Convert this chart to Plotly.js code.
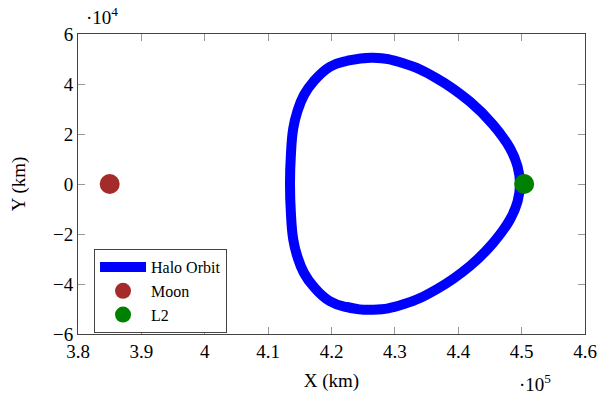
<!DOCTYPE html>
<html>
<head>
<meta charset="utf-8">
<script src="https://cdn.plot.ly/plotly-3.0.1.min.js"></script>
<style>html,body{margin:0;padding:0;background:#fff;}#chart{width:599px;height:395px;}</style>
</head>
<body>
<div id="chart"></div>
<script>
// Halo orbit (km), starting at L2 and going round counter-clockwise
const orbitX = [449740, 449360, 448170, 445530, 441850, 436600, 431330, 426600, 422400, 419760, 417130, 415660, 414600, 413970, 413600, 413450,
                413600, 413970, 414600, 415660, 417130, 419760, 422400, 426600, 431330, 436600, 441850, 445530, 448170, 449360, 449740];
const orbitY = [0, 7000, 14280, 23600, 32920, 42280, 48280, 50520, 49200, 46920, 40920, 35600, 28920, 22280, 12000, 0,
                -12000, -22280, -28920, -35600, -40920, -46920, -49200, -50300, -48100, -42100, -32800, -23500, -14200, -7000, 0];
const moonX = [385000];
const moonY = [0];
const l2X = [450400];
const l2Y = [0];
const xTickVals = [380000, 390000, 400000, 410000, 420000, 430000, 440000, 450000, 460000];
const xTickText = ['3.8', '3.9', '4', '4.1', '4.2', '4.3', '4.4', '4.5', '4.6'];
const yTickVals = [-60000, -40000, -20000, 0, 20000, 40000, 60000];
const yTickText = ['\u22126', '\u22124', '\u22122', '0', '2', '4', '6'];

const FONT = 'Liberation Serif, Times New Roman, serif';

const traces = [
  {x: orbitX, y: orbitY, type: 'scatter', mode: 'lines', name: 'Halo Orbit',
   line: {color: '#0000ff', width: 10, shape: 'spline', smoothing: 1.3}},
  {x: moonX, y: moonY, type: 'scatter', mode: 'markers', name: 'Moon',
   marker: {color: '#a52a2a', size: 20}},
  {x: l2X, y: l2Y, type: 'scatter', mode: 'markers', name: 'L2',
   marker: {color: '#008000', size: 20}}
];

const axisCommon = {
  showgrid: false, zeroline: false, showline: true, linecolor: '#444', linewidth: 1,
  mirror: 'ticks', ticks: 'inside', ticklen: 7, tickcolor: '#999', tickwidth: 1,
  tickfont: {family: FONT, size: 19, color: '#000'}
};

const layout = {
  width: 599, height: 395,
  margin: {l: 78, r: 14, t: 34, b: 61},
  paper_bgcolor: '#fff', plot_bgcolor: '#fff',
  font: {family: FONT, color: '#000'},
  showlegend: true,
  xaxis: Object.assign({}, axisCommon, {
    range: [380000, 460000], tickmode: 'array', tickvals: xTickVals, ticktext: xTickText,
    title: {text: 'X (km)', font: {family: FONT, size: 19}, standoff: 12}
  }),
  yaxis: Object.assign({}, axisCommon, {
    range: [-60000, 60000], tickmode: 'array', tickvals: yTickVals, ticktext: yTickText,
    title: {text: 'Y (km)', font: {family: FONT, size: 19}, standoff: 22}
  }),
  legend: {
    x: 0.0316, y: 0.283, xanchor: 'left', yanchor: 'top',
    bgcolor: '#fff', bordercolor: '#444', borderwidth: 1,
    font: {family: FONT, size: 16, color: '#000'},
    itemwidth: 46, tracegroupgap: 0
  },
  annotations: [
    {xref: 'paper', yref: 'paper', x: 0.047, y: 1.06, text: '\u00b710<sup>4</sup>', showarrow: false,
     font: {family: FONT, size: 19}, xanchor: 'center', yanchor: 'middle'},
    {xref: 'paper', yref: 'paper', x: 0.901, y: -0.163, text: '\u00b710<sup>5</sup>', showarrow: false,
     font: {family: FONT, size: 19}, xanchor: 'center', yanchor: 'middle'}
  ]
};

Plotly.newPlot('chart', traces, layout, {displayModeBar: false, staticPlot: true});
</script>
</body>
</html>
